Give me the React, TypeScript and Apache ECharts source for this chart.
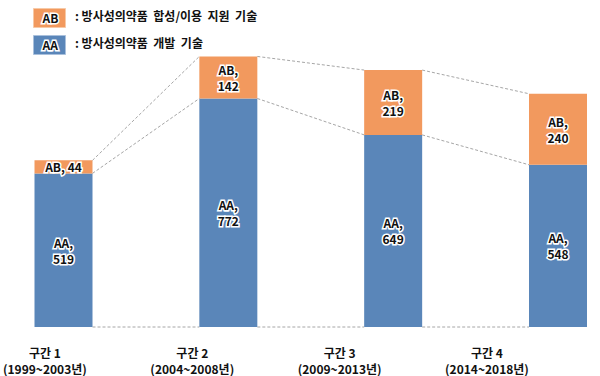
import React, { useEffect, useRef } from "react";
import * as echarts from "echarts";

const categories = ["구간 1\n(1999~2003년)", "구간 2\n(2004~2008년)", "구간 3\n(2009~2013년)", "구간 4\n(2014~2018년)"];
const aaValues = [519, 772, 649, 548];
const abValues = [44, 142, 219, 240];
const legendAB = ": 방사성의약품  합성/이용  지원  기술";
const legendAA = ": 방사성의약품  개발  기술";

const BLUE = "#5A86B9";
const ORANGE = "#F2995E";
const FONT = "'Noto Sans CJK KR', 'Noto Sans', sans-serif";
const HALF = 29;

export default function App() {
  const ref = useRef<HTMLDivElement>(null);
  useEffect(() => {
    if (!ref.current) return;
    const chart = echarts.init(ref.current, null, { renderer: "svg" });
    const connectors = aaValues.slice(0, -1).map((_, i) => [
      i,
      i + 1,
      aaValues[i],
      aaValues[i] + abValues[i],
      aaValues[i + 1],
      aaValues[i + 1] + abValues[i + 1],
    ]);
    const labelStyle = {
      show: true,
      position: "inside",
      color: "#111",
      fontFamily: FONT,
      fontSize: 12,
      fontWeight: "bold",
      lineHeight: 16,
      textBorderColor: "#fff",
      textBorderWidth: 3,
    };
    chart.setOption({
      animation: false,
      grid: [
        { left: 63.5, right: 42, top: 31, height: 296 },
        { left: 44, right: 113, top: 31, height: 296 },
      ],
      xAxis: [
        {
          type: "category",
          data: categories,
          boundaryGap: false,
          gridIndex: 0,
          axisLine: { show: false },
          axisTick: { show: false },
          axisLabel: { show: false },
        },
        {
          type: "category",
          data: categories,
          boundaryGap: false,
          gridIndex: 1,
          axisLine: { show: false },
          axisTick: { show: false },
          axisLabel: {
            margin: 17,
            color: "#111",
            fontFamily: FONT,
            fontSize: 12,
            fontWeight: "bold",
            lineHeight: 16,
          },
        },
      ],
      yAxis: [
        { type: "value", min: 0, max: 1000, show: false, gridIndex: 0 },
        { type: "value", min: 0, max: 1000, show: false, gridIndex: 1 },
      ],
      series: [
        {
          type: "custom",
          xAxisIndex: 0,
          yAxisIndex: 0,
          clip: false,
          silent: true,
          z: 1,
          data: connectors,
          renderItem: (params: any, api: any) => {
            const a = api.value(0);
            const b = api.value(1);
            const ys = [0, api.value(2), api.value(3)];
            const ye = [0, api.value(4), api.value(5)];
            const children = ys.map((v, k) => {
              const p1 = api.coord([a, v]);
              const p2 = api.coord([b, ye[k]]);
              return {
                type: "line",
                shape: { x1: p1[0] + HALF, y1: p1[1], x2: p2[0] - HALF, y2: p2[1] },
                style: { stroke: "#A6A6A6", lineWidth: 1, lineDash: [3, 2] },
              };
            });
            return { type: "group", children };
          },
        },
        {
          name: "AA",
          type: "bar",
          stack: "total",
          data: aaValues,
          barWidth: 58,
          clip: false,
          z: 2,
          itemStyle: { color: BLUE },
          label: { ...labelStyle, formatter: (p: any) => `AA,\n${p.value}` },
        },
        {
          name: "AB",
          type: "bar",
          stack: "total",
          data: abValues,
          barWidth: 58,
          clip: false,
          z: 2,
          itemStyle: { color: ORANGE },
          label: {
            ...labelStyle,
            formatter: (p: any) => (p.value < 100 ? `AB, ${p.value}` : `AB,\n${p.value}`),
          },
        },
      ],
      graphic: [
        {
          type: "rect",
          left: 33,
          top: 8,
          shape: { width: 32, height: 19 },
          style: { fill: ORANGE, stroke: "#F7C9A6", lineWidth: 1 },
        },
        {
          type: "text",
          left: 41,
          top: 10,
          style: {
            text: "AB",
            fill: "#111",
            font: `bold 12px ${FONT}`,
            stroke: "#fff",
            lineWidth: 3,
          },
        },
        {
          type: "text",
          left: 75,
          top: 9,
          style: { text: legendAB, fill: "#111", font: `bold 12px ${FONT}` },
        },
        {
          type: "rect",
          left: 33,
          top: 35,
          shape: { width: 32, height: 19 },
          style: { fill: BLUE, stroke: "#A9C0DC", lineWidth: 1 },
        },
        {
          type: "text",
          left: 41,
          top: 37,
          style: {
            text: "AA",
            fill: "#111",
            font: `bold 12px ${FONT}`,
            stroke: "#fff",
            lineWidth: 3,
          },
        },
        {
          type: "text",
          left: 75,
          top: 36,
          style: { text: legendAA, fill: "#111", font: `bold 12px ${FONT}` },
        },
      ],
    });
    return () => chart.dispose();
  }, []);
  return <div ref={ref} style={{ width: 600, height: 376, position: "absolute", left: 0, top: 0 }} />;
}
